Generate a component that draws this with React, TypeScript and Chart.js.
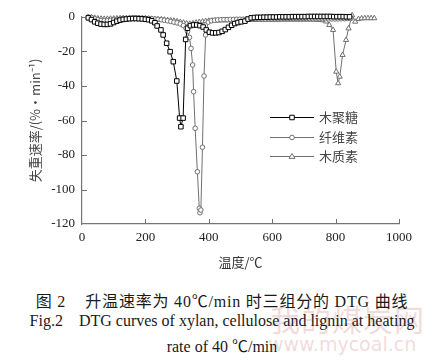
import React, { useEffect, useRef } from 'react';
import { Chart, registerables } from 'chart.js';

Chart.register(...registerables);

// ---------- data ----------
const seriesNames = ['木聚糖', '纤维素', '木质素'];
const xTicks = [0, 200, 400, 600, 800, 1000];
const yTicks = [0, -20, -40, -60, -80, -100, -120];

const xylanT = [20, 30, 40, 50, 60, 70, 80, 90, 100, 110, 120, 130, 140, 150, 160, 170, 180, 190, 200, 210, 220, 230,
  237, 249, 256, 267, 278, 288, 299, 308, 312, 319, 327, 333,
  342, 352, 362, 372, 382, 392, 402, 412, 422, 432, 442, 452, 462, 472, 482, 492, 502,
  514, 524, 534,
  544, 554, 564, 574, 584, 594, 604, 614, 624, 634, 644, 654, 664, 674, 684, 694, 704, 714, 724, 734, 744, 754, 764, 774, 784, 794, 804, 814, 824, 834, 844];
const xylanV = [-0.5, -1.5, -2.8, -3.6, -4.1, -4.3, -4.3, -4.0, -3.2, -2.4, -1.8, -1.4, -1.2, -1.0, -0.9, -0.9, -1.0, -1.1, -1.3, -1.6, -2.2, -3.3,
  -5.2, -7.5, -10.4, -15.2, -20.1, -25.9, -37.1, -58.6, -63.6, -58.6, -13.0, -6.5,
  -5.0, -4.6, -4.6, -5.0, -5.8, -7.5, -8.8, -9.2, -9.2, -9.0, -8.3, -7.3, -6.0, -4.8, -3.8, -3.2, -2.8,
  -2.4, -1.2, -0.5,
  -0.3, -0.2, -0.2, -0.1, -0.1, 0, 0, 0, 0.1, 0.1, 0.1, 0.1, 0.2, 0.2, 0.2, 0.2, 0.2, 0.3, 0.3, 0.3, 0.3, 0.3, 0.3, 0.3, 0.3, 0.2, 0.2, 0.2, 0.2, 0.1, 0.1];

const celluloseT = [20, 30, 40, 50, 60, 70, 80, 90, 100, 110, 120, 130, 140, 150, 160, 170, 180, 190, 200, 210, 220, 230, 240, 250, 260, 270, 280, 290, 300, 310, 320,
  328, 333, 339, 344, 349, 352, 357, 364, 370, 372, 375, 380, 385, 390, 398,
  408, 418, 428, 438, 448, 458, 468, 478, 488, 498, 508, 518, 528, 538, 548, 558, 568, 578, 588, 598,
  608, 618, 628, 638, 648, 658, 668, 678, 688, 698, 708, 718, 728, 738, 748, 758, 768, 778, 788, 798, 808, 818, 828, 838, 848];
const celluloseV = [0, -0.3, -1.0, -1.6, -2.0, -2.2, -2.2, -2.0, -1.7, -1.4, -1.1, -0.9, -0.8, -0.7, -0.6, -0.6, -0.6, -0.7, -0.8, -0.9, -1.0, -1.2, -1.4, -1.6, -1.9, -2.2, -2.6, -3.0, -3.4, -4.0, -5.0,
  -6.5, -8.5, -11.8, -18.2, -27.8, -43.3, -64.5, -89.7, -110.9, -113.5, -111.9, -75.5, -34.2, -10.4, -3.0,
  -2.2, -1.9, -1.7, -1.6, -1.5, -1.5, -1.4, -1.4, -1.3, -1.3, -1.3, -1.2, -1.2, -1.2, -1.1, -1.1, -1.1, -1.1, -1.0, -1.0,
  -1.0, -1.0, -1.0, -0.9, -0.9, -0.9, -0.9, -0.9, -0.9, -0.9, -0.9, -0.9, -1.0, -1.0, -1.0, -1.0, -1.0, -1.1, -1.1, -1.1, -1.1, -1.0, -1.0, -0.9, -0.8];

const ligninT = [20, 30, 40, 50, 60, 70, 80, 90, 100, 110, 120, 130, 140, 150, 160, 170, 180, 190, 200, 210, 220, 230, 240, 250, 260, 270, 280, 290, 300, 310, 320,
  330, 340, 350, 360, 370, 380, 390, 400, 410, 420, 430, 440, 450, 460, 470, 480, 490, 500, 510, 520,
  530, 540, 550, 560, 570, 580, 590, 600, 610, 620, 630, 640, 650, 660, 670, 680, 690, 700, 710, 720, 730, 740, 750, 760,
  770, 780, 792, 802, 808, 813, 822, 833, 841, 852, 862, 872, 882, 892, 902, 912, 922];
const ligninV = [0, -0.2, -0.5, -0.8, -1.0, -1.1, -1.1, -1.0, -0.9, -0.8, -0.8, -0.7, -0.7, -0.7, -0.7, -0.8, -0.8, -0.9, -0.9, -1.0, -1.1, -1.2, -1.3, -1.4, -1.6, -1.8, -2.0, -2.2, -2.5, -2.9, -3.3,
  -3.7, -3.9, -3.7, -3.3, -2.9, -2.6, -2.4, -2.2, -2.1, -2.0, -2.0, -1.9, -1.9, -1.9, -1.8, -1.8, -1.8, -1.8, -1.7, -1.7,
  -1.7, -1.7, -1.7, -1.6, -1.6, -1.6, -1.6, -1.6, -1.6, -1.6, -1.5, -1.5, -1.5, -1.5, -1.5, -1.5, -1.5, -1.5, -1.5, -1.5, -1.5, -1.6, -1.7, -1.9,
  -2.6, -4.6, -7.5, -31.7, -38.4, -34.6, -22.0, -13.3, -6.6, 1.0, -2.7, -1.2, -0.8, -0.7, -0.7, -0.7, -0.7];

// ---------- layout constants ----------
const W = 444;
const H = 275;
const SERIF = '"Liberation Serif", "Times New Roman", serif';
const CJK = '"Noto Sans CJK SC", sans-serif';

const toPts = (t: number[], v: number[]) => t.map((x, i) => ({ x, y: v[i] }));

const styles = [
  { color: '#000000', point: 'rect', radius: 3.2 },
  { color: '#707070', point: 'circle', radius: 2.3 },
  { color: '#707070', point: 'triangle', radius: 3 },
];

const legendY = [117, 137, 156];

const decor = {
  id: 'decor',
  afterDraw(chart: any) {
    const ctx = chart.ctx as CanvasRenderingContext2D;
    const xs = chart.scales.x;
    const ys = chart.scales.y;
    const area = chart.chartArea;
    ctx.save();
    // inward tick marks
    ctx.strokeStyle = '#707070';
    ctx.lineWidth = 1;
    xTicks.forEach((t) => {
      if (t === 0) return;
      const px = Math.round(xs.getPixelForValue(t)) + 0.5;
      ctx.beginPath();
      ctx.moveTo(px, area.bottom);
      ctx.lineTo(px, area.bottom - 5);
      ctx.stroke();
    });
    yTicks.forEach((t) => {
      if (t === -120) return;
      const py = Math.round(ys.getPixelForValue(t)) + 0.5;
      ctx.beginPath();
      ctx.moveTo(area.left, py);
      ctx.lineTo(area.left + 5, py);
      ctx.stroke();
    });
    // legend
    chart.data.datasets.forEach((ds: any, i: number) => {
      const y = legendY[i] + 0.5;
      const x0 = 270, x1 = 314, xm = 292;
      ctx.strokeStyle = ds.borderColor;
      ctx.lineWidth = 1;
      ctx.beginPath();
      ctx.moveTo(x0, y);
      ctx.lineTo(x1, y);
      ctx.stroke();
      ctx.fillStyle = '#ffffff';
      ctx.strokeStyle = ds.pointBorderColor;
      const r = ds.pointRadius;
      ctx.beginPath();
      if (ds.pointStyle === 'rect') {
        const s = r * Math.SQRT1_2;
        ctx.rect(xm - s, y - s, 2 * s, 2 * s);
      } else if (ds.pointStyle === 'circle') {
        ctx.arc(xm, y, r, 0, Math.PI * 2);
      } else {
        ctx.moveTo(xm, y - r);
        ctx.lineTo(xm + r * 0.866 + 0.4, y + r * 0.5 + 0.4);
        ctx.lineTo(xm - r * 0.866 - 0.4, y + r * 0.5 + 0.4);
        ctx.closePath();
      }
      ctx.fill();
      ctx.stroke();
      ctx.fillStyle = '#444';
      ctx.font = `13px ${CJK}`;
      ctx.textBaseline = 'middle';
      ctx.textAlign = 'left';
      ctx.fillText(seriesNames[i], 319, y);
    });
    ctx.restore();
  },
};

export default function App() {
  const ref = useRef<HTMLCanvasElement>(null);
  useEffect(() => {
    const all = [toPts(xylanT, xylanV), toPts(celluloseT, celluloseV), toPts(ligninT, ligninV)];
    const datasets = all.map((data, i) => ({
      label: seriesNames[i],
      data,
      borderColor: styles[i].color,
      borderWidth: 1,
      pointStyle: styles[i].point,
      pointRadius: styles[i].radius,
      pointBorderColor: styles[i].color,
      pointBackgroundColor: '#ffffff',
      pointBorderWidth: 1,
      tension: 0,
      fill: false,
      clip: false as any,
    }));
    const chart = new Chart(ref.current as HTMLCanvasElement, {
      type: 'line',
      data: { datasets } as any,
      options: {
        responsive: false,
        animation: false,
        devicePixelRatio: 1,
        layout: { padding: { left: 0, top: 17, right: 45, bottom: 0 } },
        plugins: { legend: { display: false }, tooltip: { enabled: false } },
        scales: {
          x: {
            type: 'linear',
            min: 0,
            max: 1000,
            afterFit: (s: any) => { s.height = H - 224; },
            afterBuildTicks: (s: any) => { s.ticks = xTicks.map((v) => ({ value: v })); },
            ticks: { color: '#222', font: { family: SERIF, size: 13 }, padding: 6, maxRotation: 0, callback: (v: any) => String(v) },
            grid: { display: true, drawOnChartArea: false, drawTicks: false },
            border: { color: '#777', width: 1.2 },
            title: { display: true, text: '温度/℃', color: '#333', font: { family: CJK, size: 13 }, padding: { top: 0, bottom: 5 } },
          },
          y: {
            type: 'linear',
            min: -120,
            max: 0,
            afterFit: (s: any) => { s.width = 82; },
            afterBuildTicks: (s: any) => { s.ticks = yTicks.map((v) => ({ value: v })); },
            ticks: { color: '#222', font: { family: SERIF, size: 13 }, padding: 7, callback: (v: any) => String(v) },
            grid: { display: true, drawOnChartArea: false, drawTicks: false },
            border: { color: '#777', width: 1.2 },
            title: { display: true, text: '失重速率/(%·min⁻¹)', color: '#444', font: { family: CJK, size: 13 }, padding: { top: 27, bottom: 0 } },
          },
        },
      } as any,
      plugins: [decor],
    });
    return () => chart.destroy();
  }, []);

  const cap: React.CSSProperties = { position: 'absolute', left: 0, width: W, textAlign: 'center', whiteSpace: 'pre', color: '#1a1a1a', fontFamily: `"Liberation Serif", "Times New Roman", ${CJK}` };
  return (
    <div style={{ position: 'fixed', left: 0, top: 0, width: W, height: 363, background: '#fff', overflow: 'hidden' }}>
      <canvas ref={ref} width={W} height={H} style={{ display: 'block', width: W, height: H }} />
      <div style={{ position: 'absolute', left: 270, top: 296, fontFamily: CJK, fontSize: 30, color: 'rgba(215,150,150,0.35)', whiteSpace: 'pre', letterSpacing: 1 }}>我的煤炭网</div>
      <div style={{ position: 'absolute', left: 268, top: 333, fontFamily: '"DejaVu Sans", sans-serif', fontSize: 19, color: 'rgba(215,150,150,0.35)', whiteSpace: 'pre' }}>www.mycoal.cn</div>
      <div style={{ ...cap, top: 288, fontSize: 16, letterSpacing: 0.8 }}>{'图 2    升温速率为 40℃/min 时三组分的 DTG 曲线'}</div>
      <div style={{ ...cap, top: 312, fontSize: 16 }}>{'Fig.2    DTG curves of xylan, cellulose and lignin at heating'}</div>
      <div style={{ ...cap, top: 333, fontSize: 16 }}>{'rate of 40 ℃/min'}</div>
    </div>
  );
}
